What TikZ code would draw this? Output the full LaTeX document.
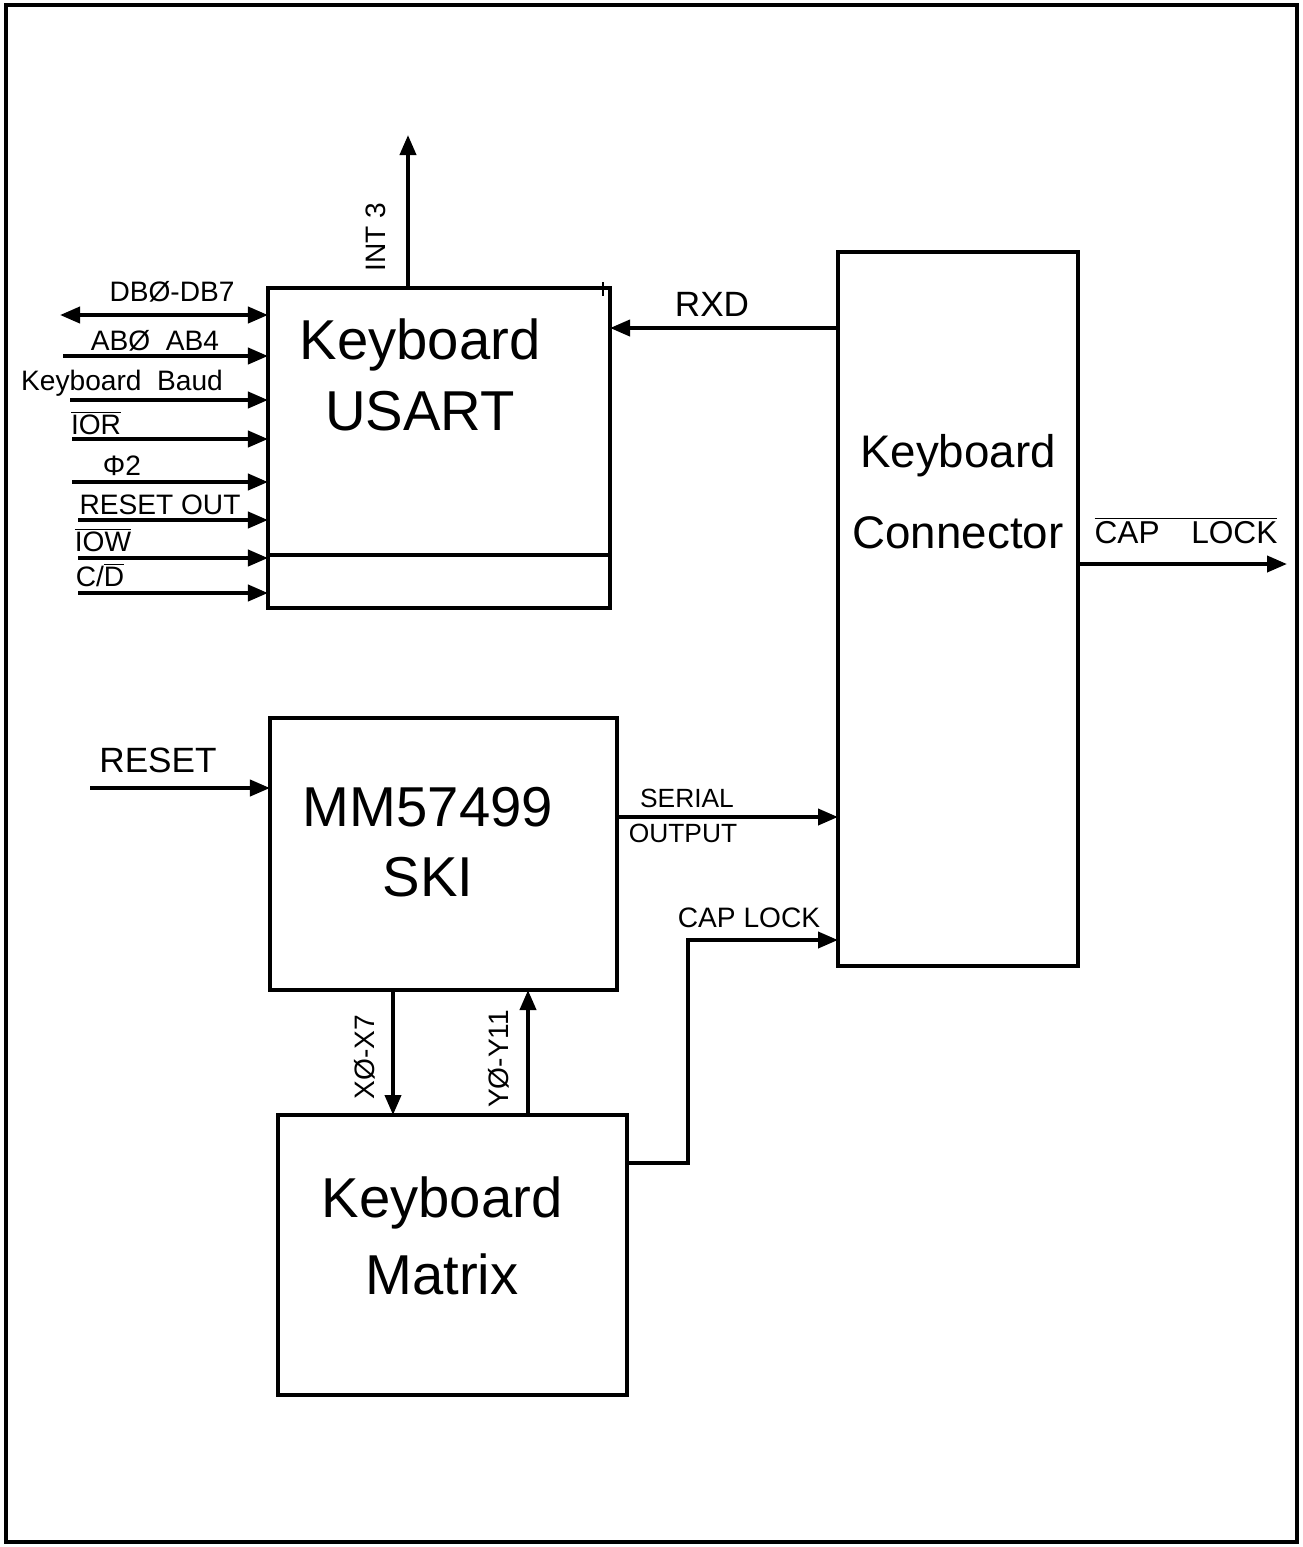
\documentclass[tikz,border=0pt]{standalone}
\usepackage{fontspec}
\setmainfont{Liberation Sans}
\usetikzlibrary{arrows.meta,positioning}
\tikzset{
  >={Triangle[length=4mm,width=3.2mm]},
  blk/.style={draw,line width=2pt,inner sep=0pt,outer sep=0pt},
  wire/.style={line width=2.2pt},
  lbl/.style={inner sep=0pt,anchor=base,font=\fontsize{16}{19}\selectfont},
  slbl/.style={inner sep=0pt,anchor=base,font=\fontsize{15}{18}\selectfont},
  big/.style={align=center,inner sep=0pt,font=\fontsize{32}{40}\selectfont},
}

\begin{document}
\begin{tikzpicture}[x=0.2mm,y=-0.2mm]
  \useasboundingbox (0,0) rectangle (1303,1547);
  \draw[line width=1.8pt] (6,5) rectangle (1297,1542);
  % blocks
  \node[blk,minimum width=68.4mm,minimum height=64mm] (usart) at (439,448) {};
  \node[blk,minimum width=48mm,minimum height=142.8mm] (conn) at (958,609) {};
  \node[blk,minimum width=69.4mm,minimum height=54.4mm] (ski) at (443.5,854) {};
  \node[blk,minimum width=69.8mm,minimum height=56mm] (mtx) at (452.5,1255) {};
  \node[big] (usartTxt) at (420,375) {Keyboard\\USART};
  \node[big,font=\fontsize{26}{46}\selectfont] (connTxt) at (958,492) {Keyboard\\Connector};
  \node[big] (skiTxt) at (428,842) {MM57499\\SKI};
  \node[big,font=\fontsize{32}{44}\selectfont] (mtxTxt) at (442,1236) {Keyboard\\Matrix};
  \draw[line width=2pt] (usart.west |- 0,555) -- (usart.east |- 0,555);
  \draw[line width=1.5pt] (603,282) -- (603,296);
  % USART inputs
  \coordinate (iDB) at (60,315);  \coordinate (iAB) at (63,356);
  \coordinate (iBd) at (70,400);  \coordinate (iRd) at (72,439);
  \coordinate (iPh) at (72,482);  \coordinate (iRo) at (78,520);
  \coordinate (iWr) at (78,558);  \coordinate (iCD) at (78,593);
  \draw[wire,<->] (iDB) -- (iDB -| usart.west);
  \foreach \p in {iAB,iBd,iRd,iPh,iRo,iWr,iCD}
    \draw[wire,->] (\p) -- (\p -| usart.west);
  \node[lbl] (lDB) at (172,301) {DBØ-DB7};
  \node[lbl] (lAB) at (155,350) {ABØ\ \ AB4};
  \node[lbl] (lBd) at (122,390) {Keyboard\ \ Baud};
  \node[lbl] (lRd) at (96,434) {$\overline{\hbox{IOR}}$};
  \node[lbl] (lPh) at (122,475) {Φ2};
  \node[lbl] (lRo) at (160,514) {RESET OUT};
  \node[lbl] (lWr) at (103,551) {$\overline{\hbox{IOW}}$};
  \node[lbl] (lCD) at (100,586) {C/$\overline{\hbox{D}}$};
  % INT 3
  \coordinate (int) at (408,135);
  \draw[wire,->] (usart.north -| int) -- (int);
  \node[lbl,anchor=center,rotate=90] (lInt) at (376,237) {INT 3};
  % RXD
  \draw[wire,->] (conn.west |- 0,328) -- (usart.east |- 0,328);
  \node[lbl,font=\fontsize{20}{24}\selectfont] (lRxd) at (712,316) {RXD};
  % CAP LOCK out
  \coordinate (capOut) at (1287,564);
  \draw[wire,->] (capOut -| conn.east) -- (capOut);
  \node[lbl,font=\fontsize{18}{22}\selectfont] (lCapO) at (1186,543) {$\overline{\hbox{CAP\quad LOCK}}$};
  % RESET
  \coordinate (iRst) at (90,788);
  \draw[wire,->] (iRst) -- (iRst -| ski.west);
  \node[lbl,font=\fontsize{20}{24}\selectfont] (lRst) at (158,772) {RESET};
  % SERIAL OUTPUT
  \draw[wire,->] (ski.east |- 0,817) -- (conn.west |- 0,817);
  \node[slbl] (lSer) at (687,807) {SERIAL};
  \node[slbl] (lOut) at (683,842) {OUTPUT};
  % CAP LOCK in
  \draw[wire,->] (mtx.east |- 0,1163) -| (688,940) -- (conn.west |- 0,940);
  \node[slbl,font=\fontsize{16}{19}\selectfont] (lCapI) at (749,927) {CAP LOCK};
  % matrix lines
  \draw[wire,->] (ski.south -| 393,0) -- (mtx.north -| 393,0);
  \draw[wire,->] (mtx.north -| 528,0) -- (ski.south -| 528,0);
  \node[lbl,anchor=center,rotate=90] (lX) at (365,1057) {XØ-X7};
  \node[lbl,anchor=center,rotate=90] (lY) at (499,1059) {YØ-Y11};
\end{tikzpicture}
\end{document}
